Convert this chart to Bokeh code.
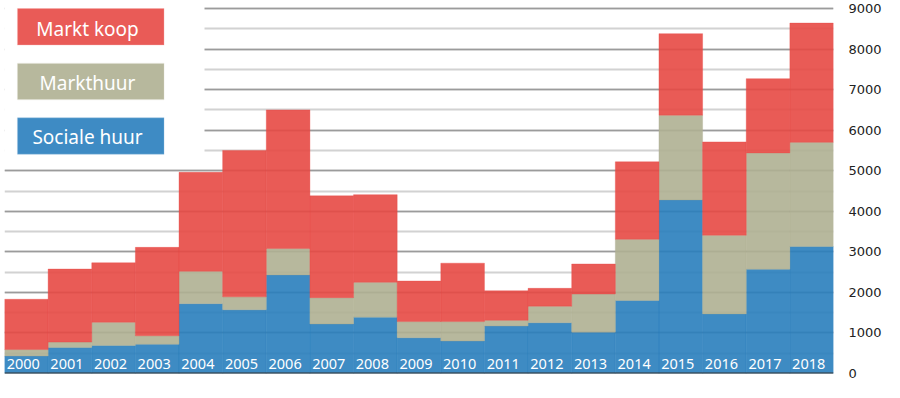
from bokeh.plotting import figure
from bokeh.models import (ColumnDataSource, FactorRange, Range1d, SingleIntervalTicker,
                          BoxAnnotation, Label, Span)
from bokeh.core.properties import value
from bokeh.embed import file_html
from bokeh.resources import INLINE

years = [str(y) for y in range(2000, 2019)]
sociale_huur = [430, 640, 690, 720, 1720, 1570, 2430, 1220, 1390, 880, 800, 1170, 1250, 1020, 1800, 4280, 1470, 2570, 3130]
markthuur = [160, 135, 575, 210, 800, 320, 650, 650, 860, 400, 480, 140, 410, 940, 1510, 2090, 1940, 2870, 2570]
markt_koop = [1240, 1800, 1465, 2180, 2440, 3610, 3420, 2510, 2160, 1000, 1440, 730, 440, 740, 1910, 2010, 2300, 1830, 2940]
series = ["sociale", "markthuur", "koop"]
series_labels = ["Sociale huur", "Markthuur", "Markt koop"]

# colours (as seen over white) and the darker fills used with alpha
seen_colors = {"sociale": "#3E8BC4", "markthuur": "#B7B89D", "koop": "#E95B57"}
fill_colors = {"sociale": "#297EBD", "markthuur": "#AFB092", "koop": "#E74944"}
border_colors = {"sociale": "#8DBBDD", "markthuur": "#D9DAC9", "koop": "#F4A7A4"}

src = ColumnDataSource(dict(year=years, sociale=sociale_huur, markthuur=markthuur, koop=markt_koop))

W, H = 884, 382
TOP, BOTTOM, LEFT, RIGHT = 0, 9, 4, 51
frame_h = H - TOP - BOTTOM          # 373
frame_w = W - LEFT - RIGHT          # 829
ZERO_PX = H - BOTTOM                # 373
TOP9000_PX = 8
PX_PER_UNIT = (ZERO_PX - TOP9000_PX) / 9000.0
y_end = frame_h / PX_PER_UNIT

p = figure(width=W, height=H, x_range=FactorRange(*years, range_padding=0),
           y_range=Range1d(0, y_end), output_backend="svg", toolbar_location=None,
           x_axis_location=None, y_axis_location="right",
           min_border_top=TOP, min_border_bottom=BOTTOM, min_border_left=LEFT, min_border_right=RIGHT)
p.outline_line_color = None
p.background_fill_color = "white"
p.border_fill_color = "white"

ticker = SingleIntervalTicker(interval=1000, num_minor_ticks=2)
p.yaxis.ticker = ticker
p.ygrid.ticker = ticker
p.xgrid.grid_line_color = None
p.ygrid.grid_line_color = "#9b9b9b"
p.ygrid.grid_line_width = 1.6
p.ygrid.minor_grid_line_color = "#d2d2d2"
p.ygrid.minor_grid_line_width = 1.8
p.yaxis.axis_line_color = None
p.yaxis.major_tick_line_color = None
p.yaxis.minor_tick_line_color = None
p.yaxis.major_label_standoff = 9
p.yaxis.major_label_text_font = "DejaVu Sans"
p.yaxis.major_label_text_font_size = "13px"
p.yaxis.major_label_text_color = "#222222"

p.vbar_stack(series, x="year", width=1.0, source=src,
             fill_color=[fill_colors[s] for s in series], fill_alpha=0.9,
             line_color=[fill_colors[s] for s in series], line_alpha=0.35, line_width=1)

p.text(x="year", y=0, text="year", source=src, text_color="white",
       text_font=value("Noto Sans"), text_font_size="14.5px",
       text_align="center", text_baseline="middle", y_offset=-10, x_offset=-3)

p.add_layout(Span(location=0, dimension="width", line_color="#333333", line_width=2))

# helpers converting picture pixels (reference layout) to data coordinates for the legend
bar_px = frame_w / len(years)
def xd(px):
    return (px - LEFT) / bar_px
def ref_y(px):
    # reference pixel row -> this canvas' pixel row (slightly compressed vertically)
    return TOP9000_PX + (px - 8.7) * (ZERO_PX - TOP9000_PX) / (382.7 - 8.7)
def yd(px):
    return (ZERO_PX - ref_y(px)) / PX_PER_UNIT

# white area behind the legend
p.add_layout(BoxAnnotation(left=xd(-10), right=xd(204), bottom=yd(165), top=y_end + 50,
                           fill_color="white", fill_alpha=1, line_color=None))

legend_rows = [("koop", 8.7, 46.0, 29.2), ("markthuur", 65.0, 102.0, 85.2), ("sociale", 120.7, 158.0, 140.7)]
for key, top_px, bot_px, text_px in legend_rows:
    p.add_layout(BoxAnnotation(left=xd(17), right=xd(163.5), top=yd(top_px), bottom=yd(bot_px),
                               fill_color=seen_colors[key], fill_alpha=1,
                               line_color=border_colors[key], line_width=1.2))
    p.add_layout(Label(x=xd(87), y=yd(text_px), text=series_labels[series.index(key)],
                       text_color="white", text_font="Noto Sans", text_font_size="19px",
                       text_align="center", text_baseline="middle"))

open("out.html", "w").write(file_html(p, INLINE))
